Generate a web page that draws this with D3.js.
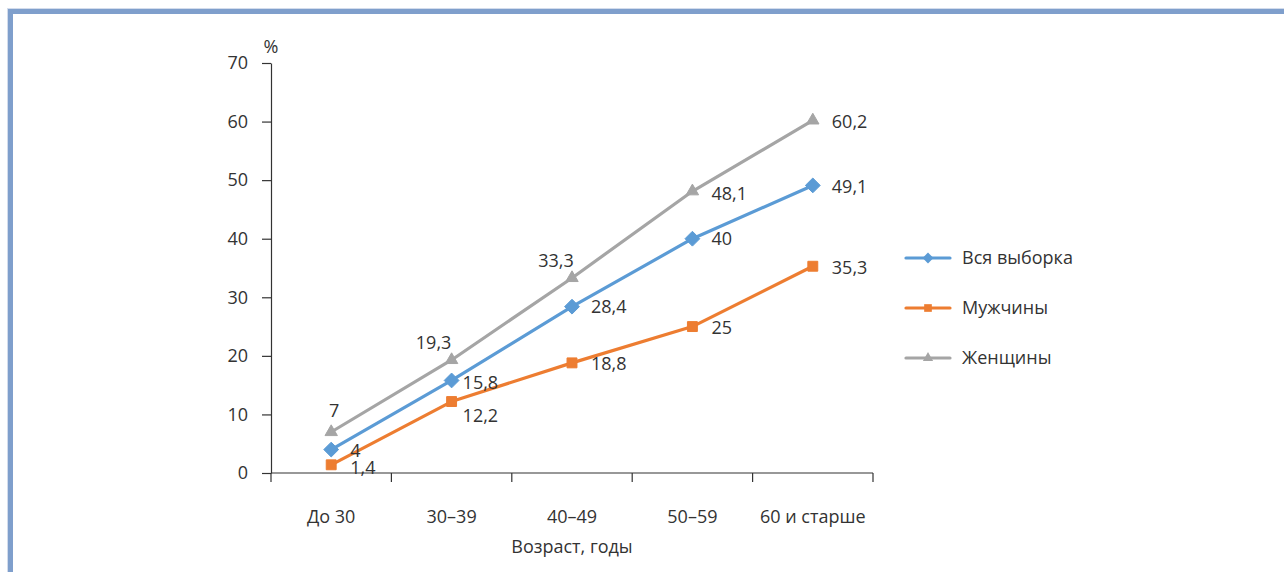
<!DOCTYPE html>
<html lang="ru">
<head>
<meta charset="utf-8">
<script src="https://cdn.jsdelivr.net/npm/d3@7"></script>
<style>
  html, body { margin: 0; padding: 0; background: #ffffff; }
  svg { display: block; }
  text { font-family: "Open Sans", "Noto Sans", sans-serif; fill: #333333; }
</style>
</head>
<body>
<svg id="chart" width="1284" height="572"></svg>
<script>
// Age groups on the horizontal axis
const categories = ["До 30", "30–39", "40–49", "50–59", "60 и старше"];

// Share of respondents, %
const seriesNames = ["Вся выборка", "Мужчины", "Женщины"];
const allValues   = [4, 15.8, 28.4, 40, 49.1];
const menValues   = [1.4, 12.2, 18.8, 25, 35.3];
const womenValues = [7, 19.3, 33.3, 48.1, 60.2];

const yTicks = [0, 10, 20, 30, 40, 50, 60, 70];

const colors  = ["#5b9bd5", "#ed7d31", "#a5a5a5"];
const symbols = [d3.symbolDiamond2, d3.symbolSquare2, d3.symbolTriangle2];

// Label placement per point: [anchor, dx, dy] relative to the marker centre
const labelPlacement = [
  [["start", 19, 1], ["start", 11, 2], ["start", 19, 0], ["start", 19, 0], ["start", 19, 1]],
  [["start", 19, 3], ["start", 11, 14], ["start", 19, 1], ["start", 19, 1], ["start", 19, 1]],
  [["middle", 3, -21], ["middle", -18, -17], ["middle", -16, -17], ["start", 19, 2], ["start", 19, 1]]
];

const series = [allValues, menValues, womenValues].map((values, i) => ({
  name: seriesNames[i],
  color: colors[i],
  symbol: symbols[i],
  points: values.map((v, j) => ({ cat: categories[j], value: v, place: labelPlacement[i][j] }))
}));

const svg = d3.select("#chart");
const fmt = v => String(v).replace(".", ",");
const fontSize = 18;
const ink = "#333333";

// Frame along the top and left edges
svg.append("rect").attr("x", 7).attr("y", 8).attr("width", 1277).attr("height", 1).attr("fill", "#d3dcec");
svg.append("rect").attr("x", 7).attr("y", 8).attr("width", 1).attr("height", 564).attr("fill", "#d3dcec");
svg.append("rect").attr("x", 8).attr("y", 9).attr("width", 1276).attr("height", 5).attr("fill", "#7f9fcc");
svg.append("rect").attr("x", 8).attr("y", 9).attr("width", 5).attr("height", 563).attr("fill", "#7f9fcc");

const x = d3.scaleBand().domain(categories).range([271, 873]).padding(0);
const y = d3.scaleLinear().domain([0, 70]).range([473, 63]);
const cx = c => x(c) + x.bandwidth() / 2;

// Y axis
const yAxis = svg.append("g")
  .attr("transform", "translate(271,0)")
  .call(d3.axisLeft(y).tickValues(yTicks).tickSize(9).tickPadding(14).tickSizeOuter(0));
yAxis.select(".domain").attr("stroke", ink).attr("stroke-width", 1.2);
yAxis.selectAll(".tick line").attr("stroke", ink).attr("stroke-width", 1.2);
yAxis.selectAll(".tick text").attr("font-size", fontSize).attr("fill", ink)
  .style("font-family", "'Open Sans', sans-serif");

// X axis: ticks sit on the category boundaries
const xAxis = svg.append("g").attr("transform", "translate(0,473)");
xAxis.append("line").attr("x1", 271).attr("x2", 873).attr("y1", 0).attr("y2", 0)
  .attr("stroke", ink).attr("stroke-width", 1.2);
const edges = categories.map(c => x(c)).concat([x(categories[categories.length - 1]) + x.bandwidth()]);
xAxis.selectAll("line.tick").data(edges).join("line").attr("class", "tick")
  .attr("x1", d => d).attr("x2", d => d).attr("y1", 0).attr("y2", 9)
  .attr("stroke", ink).attr("stroke-width", 1.2);
xAxis.selectAll("text").data(categories).join("text")
  .attr("x", d => cx(d)).attr("y", 50).attr("text-anchor", "middle")
  .attr("font-size", fontSize).text(d => d);

// Axis titles
svg.append("text").attr("x", 572).attr("y", 553).attr("text-anchor", "middle")
  .attr("font-size", fontSize).text("Возраст, годы");
svg.append("text").attr("x", 271).attr("y", 53).attr("text-anchor", "middle")
  .attr("font-size", fontSize).text("%");

// Lines, markers and value labels
const line = d3.line().x(d => cx(d.cat)).y(d => y(d.value));
const markerSize = [140, 125, 110];

series.forEach((s, i) => {
  const g = svg.append("g");
  g.append("path").datum(s.points).attr("d", line)
    .attr("fill", "none").attr("stroke", s.color).attr("stroke-width", 3.2)
    .attr("stroke-linejoin", "round").attr("stroke-linecap", "round");
  g.selectAll("path.marker").data(s.points).join("path").attr("class", "marker")
    .attr("transform", d => `translate(${cx(d.cat)},${y(d.value)})`)
    .attr("d", d3.symbol().type(s.symbol).size(markerSize[i]))
    .attr("fill", s.color).attr("stroke", s.color).attr("stroke-width", 1);
});

series.forEach(s => {
  svg.append("g").selectAll("text").data(s.points).join("text")
    .attr("x", d => cx(d.cat) + d.place[1])
    .attr("y", d => y(d.value) + d.place[2])
    .attr("dy", "0.36em")
    .attr("text-anchor", d => d.place[0])
    .attr("font-size", fontSize)
    .text(d => fmt(d.value));
});

// Legend
const legend = svg.append("g").attr("transform", "translate(906,258)");
series.forEach((s, i) => {
  const row = legend.append("g").attr("transform", `translate(0,${i * 50})`);
  row.append("line").attr("x1", 0).attr("x2", 44).attr("y1", 0).attr("y2", 0)
    .attr("stroke", s.color).attr("stroke-width", 3.2).attr("stroke-linecap", "round");
  row.append("path").attr("transform", "translate(22,0)")
    .attr("d", d3.symbol().type(s.symbol).size(75)).attr("fill", s.color);
  row.append("text").attr("x", 56).attr("y", 0).attr("dy", "0.36em")
    .attr("font-size", fontSize).text(s.name);
});
</script>
</body>
</html>
